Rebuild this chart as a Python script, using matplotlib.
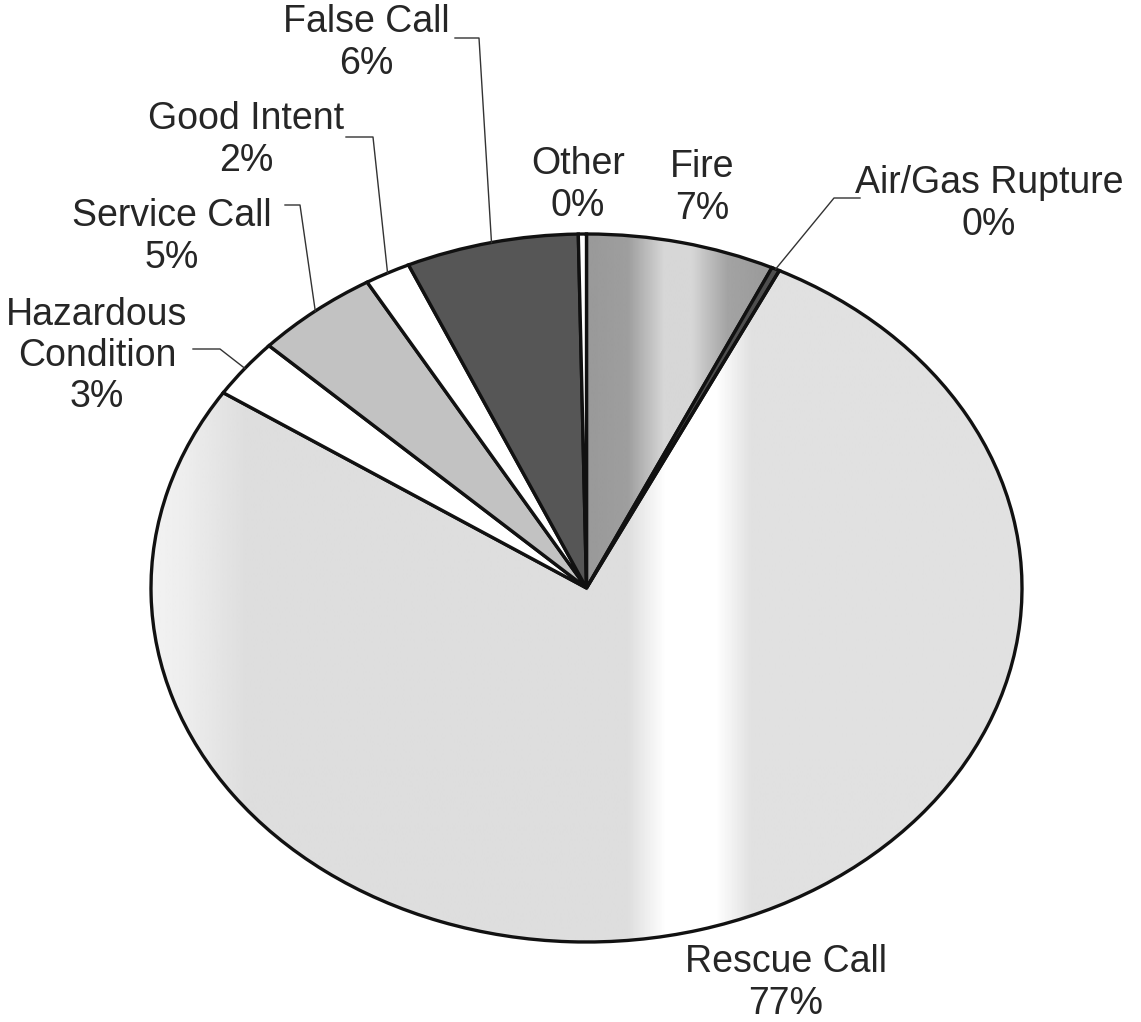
import numpy as np
import matplotlib
matplotlib.use('Agg')
import matplotlib.pyplot as plt

# incident types, clockwise from 12 o'clock
categories = ['Fire', 'Air/Gas Rupture', 'Rescue Call', 'Hazardous\nCondition',
              'Service Call', 'Good Intent', 'False Call', 'Other']
shares = [7.0, 0.3, 77.0, 2.7, 4.6, 1.7, 6.4, 0.3]

W, H = 1141, 1022
CX, CY, RX, RY = 586.5, 588.0, 435.5, 354.0


def px(x, y):
    # figure pixel -> data coords of the (stretched) unit pie
    return (x - CX) / RX, (CY - y) / RY


plt.rcParams['font.family'] = ['Liberation Sans', 'DejaVu Sans']
fig = plt.figure(figsize=(W / 100, H / 100), dpi=100)
ax = fig.add_axes([0, 0, 1, 1])

face = ['none', '#4e4e4e', 'none', 'white', '#c2c2c2', 'white', '#565656', 'white']
wedges, _ = ax.pie(shares, startangle=90, counterclock=False, colors=face,
                   wedgeprops=dict(edgecolor='#111111', linewidth=2.4))

x0, y0 = px(0, H)
x1, y1 = px(W, 0)
ax.set_aspect('auto')
ax.set_xlim(x0, x1)
ax.set_ylim(y0, y1)
ax.axis('off')

# horizontal shading bands for the two "lit" slices
xs = np.linspace(0, W, 800)
shade = {
    0: np.interp(xs, [586, 628, 664, 692, 728, 775], [0.60, 0.62, 0.84, 0.84, 0.64, 0.60]),
    2: np.interp(xs, [150, 185, 245, 628, 666, 716, 752, 1022],
                 [0.95, 0.93, 0.87, 0.87, 1.0, 1.0, 0.88, 0.88]),
}
for i, prof in shade.items():
    img = np.tile(prof, (2, 1))
    im = ax.imshow(img, cmap='gray', vmin=0, vmax=1, extent=(x0, x1, y0, y1),
                   aspect='auto', interpolation='bilinear', zorder=0)
    im.set_clip_path(wedges[i])

# labels
pcts = [f'{round(s)}%' for s in shares]
label_pos = [(702, 188), (989, 204), (786, 983), (97, 356),
             (172, 237), (246, 140), (366, 43), (578, 185)]
for name, pc, (lx, ly) in zip(categories, pcts, label_pos):
    ax.text(*px(lx, ly), f'{name}\n{pc}', ha='center', va='center',
            multialignment='center', fontsize=27, color='#262626', linespacing=1.18)

# leader lines: label side start, elbow, then to the wedge's outer mid point
leaders = {1: [(860, 198), (834, 198)],
           3: [(193, 349), (220, 349)],
           4: [(285, 205), (300, 205)],
           5: [(346, 137), (373, 137)],
           6: [(455, 38), (479, 38)]}
for i, pts in leaders.items():
    w = wedges[i]
    mid = np.deg2rad((w.theta1 + w.theta2) / 2)
    ex, ey = np.cos(mid), np.sin(mid)
    xy = [px(*p) for p in pts] + [(ex, ey)]
    ax.plot([p[0] for p in xy], [p[1] for p in xy], color='#333333', lw=1.0, zorder=3)

plt.savefig('out.png', dpi=100)
